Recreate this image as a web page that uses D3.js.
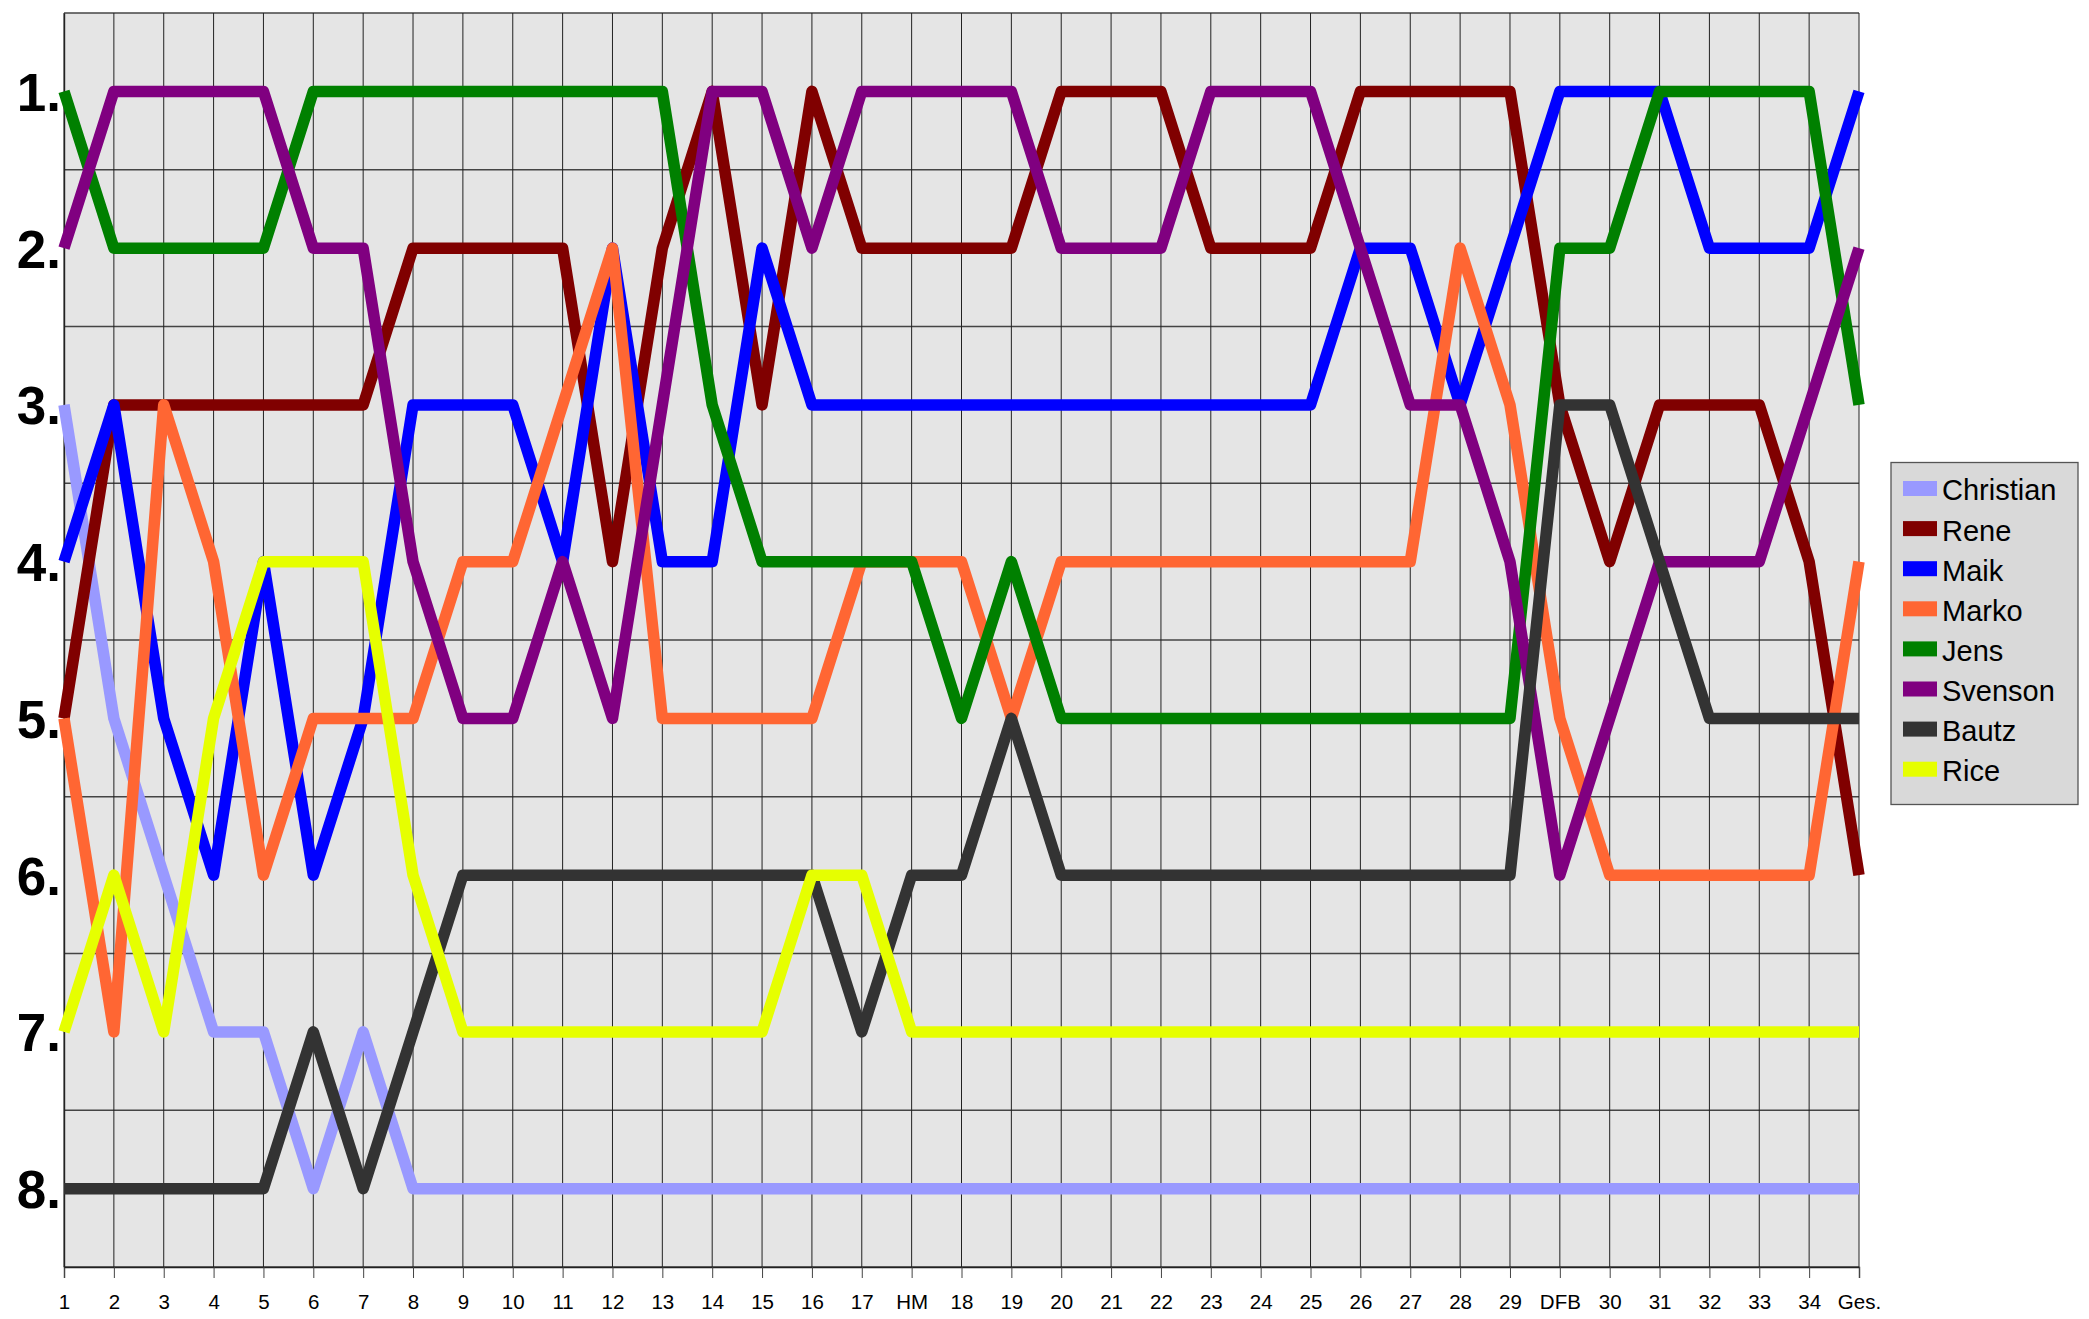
<!DOCTYPE html>
<html>
<head>
<meta charset="utf-8">
<script src="https://cdn.jsdelivr.net/npm/d3@7"></script>
<style>
  html, body { margin: 0; padding: 0; background: #ffffff; }
  svg { display: block; }
  text { font-family: "Liberation Sans", Arial, sans-serif; }
</style>
</head>
<body>
<svg id="chart" width="2089" height="1319"></svg>
<script>
const categories = ["1","2","3","4","5","6","7","8","9","10","11","12","13","14","15","16","17","HM",
  "18","19","20","21","22","23","24","25","26","27","28","29","DFB","30","31","32","33","34","Ges."];

const rankTicks = [1, 2, 3, 4, 5, 6, 7, 8];

const christian = [3,5,6,7,7,8,7,8,8,8,8,8,8,8,8,8,8,8,8,8,8,8,8,8,8,8,8,8,8,8,8,8,8,8,8,8,8];
const rene      = [5,3,3,3,3,3,3,2,2,2,2,4,2,1,3,1,2,2,2,2,1,1,1,2,2,2,1,1,1,1,3,4,3,3,3,4,6];
const maik      = [4,3,5,6,4,6,5,3,3,3,4,2,4,4,2,3,3,3,3,3,3,3,3,3,3,3,2,2,3,2,1,1,1,2,2,2,1];
const marko     = [5,7,3,4,6,5,5,5,4,4,3,2,5,5,5,5,4,4,4,5,4,4,4,4,4,4,4,4,2,3,5,6,6,6,6,6,4];
const jens      = [1,2,2,2,2,1,1,1,1,1,1,1,1,3,4,4,4,4,5,4,5,5,5,5,5,5,5,5,5,5,2,2,1,1,1,1,3];
const svenson   = [2,1,1,1,1,2,2,4,5,5,4,5,3,1,1,2,1,1,1,1,2,2,2,1,1,1,2,3,3,4,6,5,4,4,4,3,2];
const bautz     = [8,8,8,8,8,7,8,7,6,6,6,6,6,6,6,6,7,6,6,5,6,6,6,6,6,6,6,6,6,6,3,3,4,5,5,5,5];
const rice      = [7,6,7,5,4,4,4,6,7,7,7,7,7,7,7,6,6,7,7,7,7,7,7,7,7,7,7,7,7,7,7,7,7,7,7,7,7];

const seriesNames  = ["Christian","Rene","Maik","Marko","Jens","Svenson","Bautz","Rice"];
const seriesValues = [christian, rene, maik, marko, jens, svenson, bautz, rice];
const seriesColors = ["#9999ff","#800000","#0000ff","#ff6633","#008000","#800080","#333333","#e6ff00"];

const svg = d3.select("#chart");

const plot = { left: 64, right: 1859, top: 13, bottom: 1267 };

const x = d3.scalePoint().domain(categories).range([plot.left, plot.right]).padding(0);
const y = d3.scaleLinear().domain([0.5, 8.5]).range([plot.top, plot.bottom]);

// plot background
svg.append("rect")
  .attr("x", plot.left).attr("y", plot.top)
  .attr("width", plot.right - plot.left).attr("height", plot.bottom - plot.top)
  .attr("fill", "#e5e5e5");

// horizontal gridlines at half steps
const hLines = d3.range(0.5, 8.51, 1);
svg.append("g").selectAll("line").data(hLines).join("line")
  .attr("x1", plot.left).attr("x2", plot.right)
  .attr("y1", d => y(d)).attr("y2", d => y(d))
  .attr("stroke", "#444").attr("stroke-width", 1.4);

// vertical gridlines at each category
svg.append("g").selectAll("line").data(categories).join("line")
  .attr("x1", d => x(d)).attr("x2", d => x(d))
  .attr("y1", plot.top).attr("y2", plot.bottom)
  .attr("stroke", "#222").attr("stroke-width", 1);

// x axis
const xAxis = svg.append("g")
  .attr("transform", `translate(0,${plot.bottom})`)
  .call(d3.axisBottom(x).tickSize(11).tickPadding(16));
xAxis.select(".domain").attr("stroke", "#222").attr("stroke-width", 1.4);
xAxis.selectAll(".tick line").attr("stroke", "#444");
xAxis.selectAll("text")
  .attr("font-family", "'Liberation Sans', Arial, sans-serif")
  .attr("font-size", 20.5).attr("fill", "#000");

// y axis
const yAxis = svg.append("g")
  .attr("transform", `translate(${plot.left},0)`)
  .call(d3.axisLeft(y).tickValues(rankTicks).tickFormat(d => d + ".").tickSize(0).tickPadding(3));
yAxis.select(".domain").attr("stroke", "#222").attr("stroke-width", 1.4);
yAxis.selectAll("text")
  .attr("font-family", "'Liberation Sans', Arial, sans-serif")
  .attr("font-size", 53).attr("font-weight", "bold").attr("fill", "#000")
  .attr("dy", "0.36em");

// lines
const line = d3.line().x((d, i) => x(categories[i])).y(d => y(d));
const lineG = svg.append("g");
seriesValues.forEach((vals, k) => {
  lineG.append("path")
    .datum(vals)
    .attr("d", line)
    .attr("fill", "none")
    .attr("stroke", seriesColors[k])
    .attr("stroke-width", 11.5)
    .attr("stroke-linejoin", "round")
    .attr("stroke-linecap", "butt");
});

// legend
const legend = svg.append("g");
legend.append("rect")
  .attr("x", 1891).attr("y", 462.5).attr("width", 187).attr("height", 342)
  .attr("fill", "#d9d9d9").attr("stroke", "#555").attr("stroke-width", 1.3);
seriesNames.forEach((name, k) => {
  const cy = 488.5 + k * 40.1;
  legend.append("rect")
    .attr("x", 1903).attr("y", cy - 7.5).attr("width", 34).attr("height", 15)
    .attr("fill", seriesColors[k]);
  legend.append("text")
    .attr("x", 1942).attr("y", cy + 1.5).attr("dy", "0.36em")
    .attr("font-size", 29).attr("fill", "#000")
    .text(name);
});
</script>
</body>
</html>
